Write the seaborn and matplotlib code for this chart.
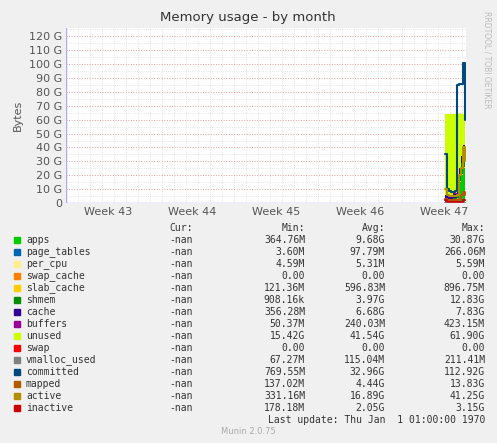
import matplotlib
matplotlib.use("Agg")
import matplotlib.pyplot as plt
import seaborn as sns
import numpy as np

sns.set_style("white")
plt.rcParams['font.family'] = ['DejaVu Sans']

weeks = ["Week 43", "Week 44", "Week 45", "Week 46", "Week 47"]
t = [31.6, 31.77, 31.93, 32.1, 32.27, 32.43, 32.6, 32.77, 32.93, 33.1, 33.25]
apps = [1, 1, 1, 1, 2, 2, 3, 15, 20, 25, 20]
page_tables = [0.1]*11
per_cpu = [0.005]*11
swap_cache = [0]*11
slab_cache = [0.6]*11
shmem = [1, 1, 1, 1, 1, 1, 1, 5, 8, 10, 10]
cache = [3, 3, 3, 3, 3, 3, 3, 4, 5, 6, 6]
buffers = [0.2]*11
unused = [58, 58, 58, 58, 57, 57, 56, 40, 30, 22, 27]
swap = [0]*11
vmalloc_used = [0.2]*11
committed = [35, 10, 9, 8, 8, 9, 85, 86, 86, 101, 60]
mapped = [3, 2, 2, 2, 2, 2, 2, 3, 6, 8, 6]
active = [10, 6, 5, 5, 5, 5, 6, 20, 25, 40, 30]
inactive = [2, 1, 1, 1, 1, 1, 1, 1, 1, 2, 2]

names = ["apps","page_tables","per_cpu","swap_cache","slab_cache","shmem","cache","buffers","unused","swap","vmalloc_used","committed","mapped","active","inactive"]
colors = ["#00CC00","#0066B3","#FFEE88","#FF8000","#FFCC00","#008F00","#330099","#990099","#CCFF00","#FF0000","#808080","#00487D","#B35A00","#B38F00","#CC0000"]
mins = ["364.76M","3.60M","4.59M","0.00","121.36M","908.16k","356.28M","50.37M","15.42G","0.00","67.27M","769.55M","137.02M","331.16M","178.18M"]
avgs = ["9.68G","97.79M","5.31M","0.00","596.83M","3.97G","6.68G","240.03M","41.54G","0.00","115.04M","32.96G","4.44G","16.89G","2.05G"]
maxs = ["30.87G","266.06M","5.59M","0.00","896.75M","12.83G","7.83G","423.15M","61.90G","0.00","211.41M","112.92G","13.83G","41.25G","3.15G"]

W, H = 497, 443
fig = plt.figure(figsize=(W/100, H/100), dpi=100, facecolor="#F0F0F0")
ax = fig.add_axes([66/W, 1-203/H, 400/W, 175/H])
ax.set_facecolor("white")

stack = [apps, page_tables, per_cpu, swap_cache, slab_cache, shmem, cache, buffers, unused, swap]
base = np.zeros(len(t))
for vals, c in zip(stack, colors[:10]):
    top = base + np.array(vals, float)
    ax.fill_between(t, base, top, color=c, step="post", lw=0)
    base = top
for vals, c in zip([vmalloc_used, committed, mapped, active, inactive], colors[10:]):
    sns.lineplot(x=t, y=vals, color=c, drawstyle="steps-post", lw=1.5, ax=ax)

ax.set_xlim(0, 400/12)
ax.set_ylim(0, 126)
ax.set_yticks(range(0, 121, 10))
ax.set_yticklabels(["0"] + [f"{v} G" for v in range(10, 121, 10)], fontsize=8, color="#555555")
ax.set_xticks([3.5, 10.5, 17.5, 24.5, 31.5])
ax.set_xticklabels(weeks, fontsize=8, color="#555555")
ax.tick_params(length=0, pad=3)
ax.set_yticks(np.arange(0, 126, 5), minor=True)
ax.set_xticks(np.arange(0, 34, 1), minor=True)
ax.grid(which="minor", color="#DDDDDD", ls=":", lw=0.6)
ax.grid(which="major", axis="y", color="#E0A0A0", ls=":", lw=0.7)
ax.grid(which="major", axis="x", visible=False)
for s in ax.spines.values():
    s.set_visible(False)
ax.axhline(0, color="#AAAAFF", lw=1)
ax.axvline(0, color="#AAAAFF", lw=1)
ax.set_ylabel("Bytes", fontsize=8, color="#555555")

fig.text(248/W, 1-18/H, "Memory usage - by month", ha="center", va="center", fontsize=9.5, color="#333333")
fig.text(487/W, 1-60/H, "RRDTOOL / TOBI OETIKER", rotation=270, ha="center", va="center", fontsize=5.5, color="#BBBBBB")

fs = 7
for xx, lab in [(193, "Cur:"), (305, "Min:"), (385, "Avg:"), (485, "Max:")]:
    fig.text(xx/W, 1-228/H, lab, ha="right", va="center", fontsize=fs, color="#333333", family="DejaVu Sans Mono")
for i, n in enumerate(names):
    y = 1 - (240 + 12*i)/H
    fig.patches.append(plt.Rectangle((14/W, y-3/H), 6/W, 6/H, transform=fig.transFigure, color=colors[i]))
    kw = dict(va="center", fontsize=fs, color="#333333", family="DejaVu Sans Mono")
    fig.text(26/W, y, n, ha="left", **kw)
    fig.text(193/W, y, "-nan", ha="right", **kw)
    fig.text(305/W, y, mins[i], ha="right", **kw)
    fig.text(385/W, y, avgs[i], ha="right", **kw)
    fig.text(485/W, y, maxs[i], ha="right", **kw)
fig.text(485/W, 1-420/H, "Last update: Thu Jan  1 01:00:00 1970", ha="right", va="center", fontsize=fs, color="#333333", family="DejaVu Sans Mono")
fig.text(248/W, 1-432/H, "Munin 2.0.75", ha="center", va="center", fontsize=6, color="#AAAAAA")

fig.savefig("out.png", dpi=100, facecolor=fig.get_facecolor())
